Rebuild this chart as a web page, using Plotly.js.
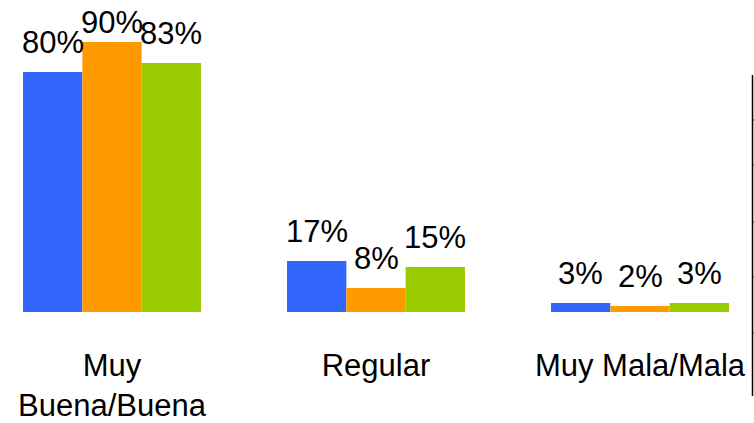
<!DOCTYPE html>
<html>
<head>
<meta charset="utf-8">
<script src="https://cdn.plot.ly/plotly-3.0.1.min.js"></script>
<style>html,body{margin:0;padding:0;background:#fff;}#chart{width:754px;height:423px;}</style>
</head>
<body>
<div id="chart"></div>
<script>
const categories = ["Muy<br>Buena/Buena", "Regular", "Muy Mala/Mala"];
const seriesNames = ["Serie 1", "Serie 2", "Serie 3"];
const serie1 = [80, 17, 3];
const serie2 = [90, 8, 2];
const serie3 = [83, 15, 3];
const colors = ["#3366FF", "#FF9900", "#99CC00"];

const allSeries = [serie1, serie2, serie3];
const FONT = "Liberation Sans, Arial, Helvetica, sans-serif";
const FS = 31;

const traces = allSeries.map((vals, i) => ({
  type: "bar",
  name: seriesNames[i],
  x: categories,
  y: vals,
  marker: {color: colors[i]},
  hoverinfo: "none",
  showlegend: false
}));

// geometry used for label placement
const W = 754, plotH = 312, yMax = 104, catStep = 264, bargap = 0.326;
const barW = catStep * (1 - bargap) / 3;
const pxPerUnit = plotH / yMax;
const labelBox = 36;
const annotations = [];
allSeries.forEach((vals, i) => {
  vals.forEach((v, j) => {
    const barTop = plotH - v * pxPerUnit;
    const shift = Math.max(-2, Math.min(10, barTop - labelBox - 6));
    annotations.push({
      x: categories[j], y: v, xref: "x", yref: "y",
      text: v + "%", showarrow: false,
      xshift: (i - 1) * barW, yshift: shift, yanchor: "bottom",
      font: {family: FONT, size: FS, color: "#000"}
    });
  });
});

const shapes = [
  {type: "line", xref: "paper", yref: "paper", x0: 752.5 / W, x1: 752.5 / W, y0: 1 - 75 / plotH, y1: 1 - 396 / plotH, line: {color: "#000", width: 1.5}}
];
[120, 165, 222, 277, 333].forEach(py => {
  shapes.push({type: "line", xref: "paper", yref: "paper", x0: 752.5 / W, x1: 1, y0: 1 - py / plotH, y1: 1 - py / plotH, line: {color: "#000", width: 1}});
});

const layout = {
  width: 754, height: 423,
  margin: {l: 0, r: 0, t: 0, b: 423 - plotH, pad: 0},
  paper_bgcolor: "#fff", plot_bgcolor: "#fff",
  barmode: "group", bargap: bargap, bargroupgap: 0,
  font: {family: FONT, size: FS, color: "#000"},
  xaxis: {
    type: "category",
    range: [-112 / catStep, (W - 112) / catStep],
    showline: false, showgrid: false, zeroline: false, ticks: "",
    tickfont: {family: FONT, size: FS, color: "#000"},
    ticklabelstandoff: 32
  },
  yaxis: {range: [0, yMax], visible: false, showgrid: false, zeroline: false},
  annotations: annotations,
  shapes: shapes
};

Plotly.newPlot("chart", traces, layout, {displayModeBar: false, staticPlot: true});
</script>
</body>
</html>
